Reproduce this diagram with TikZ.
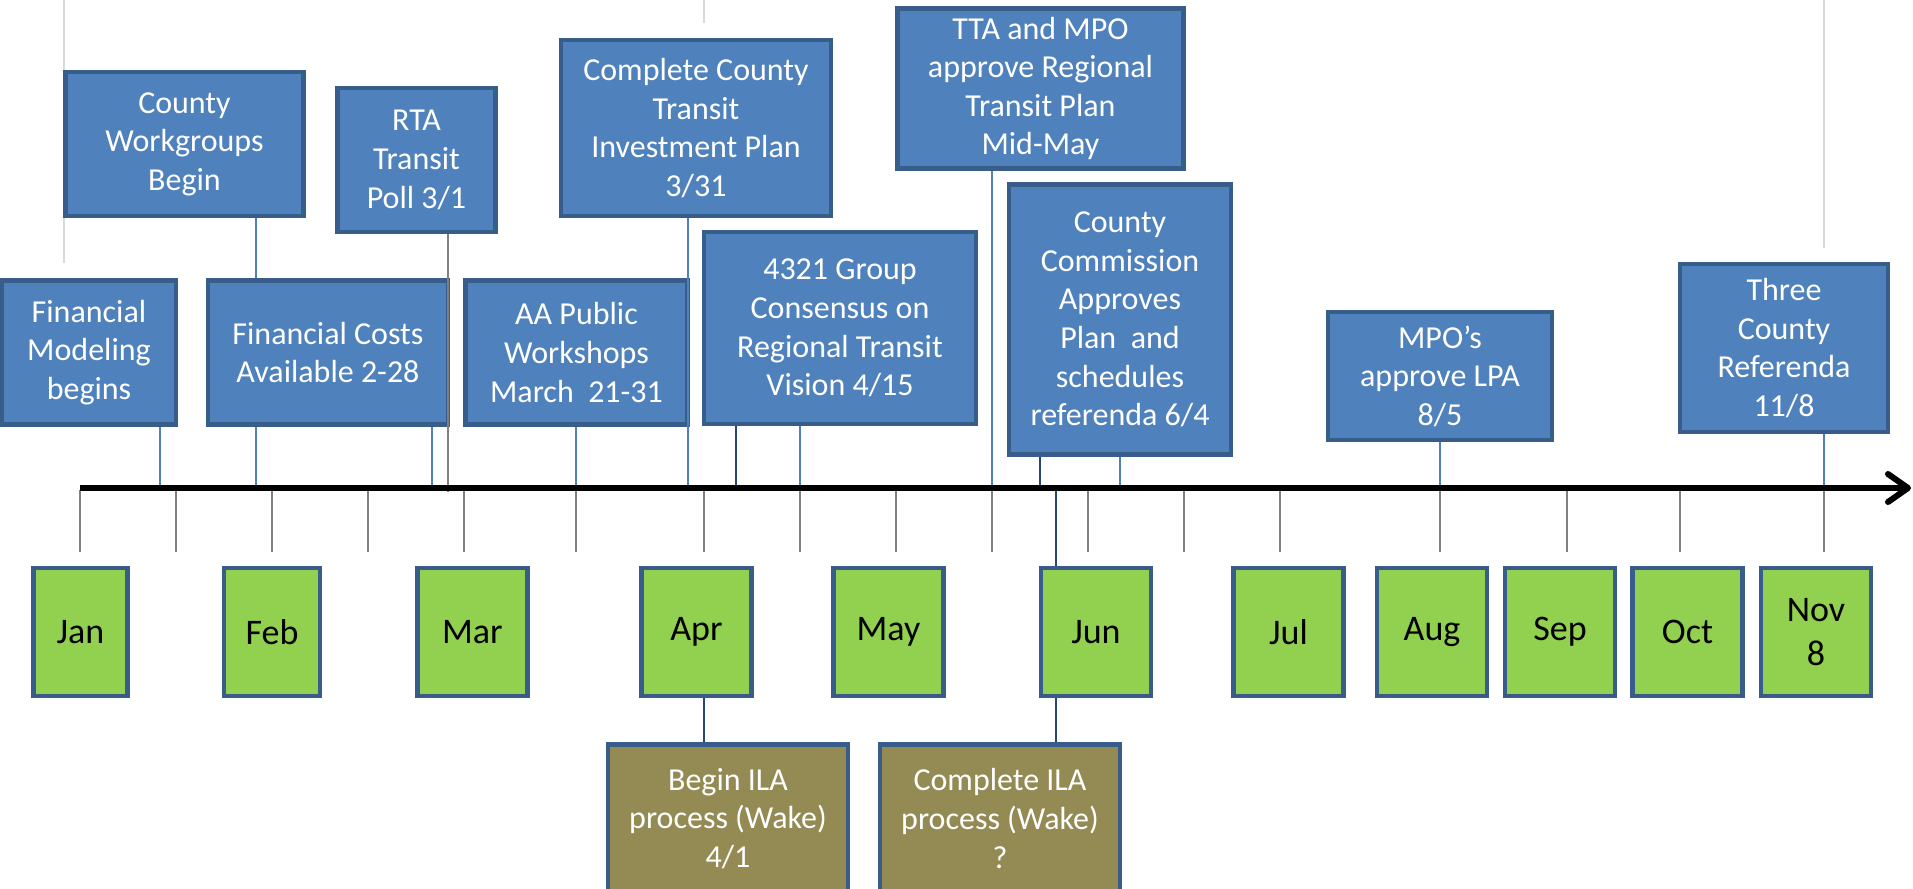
\documentclass[tikz,border=0pt]{standalone}
\usepackage{fontspec}
\setmainfont{Carlito}
\usetikzlibrary{arrows.meta}

\definecolor{evtblue}{HTML}{4F81BD}
\definecolor{edgeblue}{HTML}{385D8A}
\definecolor{monthgreen}{HTML}{92D050}
\definecolor{ilaolive}{HTML}{948A54}
\definecolor{navy}{HTML}{24477A}
\definecolor{tickgray}{HTML}{808080}
\definecolor{guidegray}{HTML}{D9D9D9}

\begin{document}
\begin{tikzpicture}[
                    x = 0.5pt, y = -0.5pt, % one unit = one pixel of the sketch
                    > = {Straight Barb[round, length=10pt, width=14pt]}, % axis head
                    semithick % line style
            ]

            \tikzstyle{event}=[
                draw = edgeblue,
                line width = 2.3pt,
                fill = evtblue,
                text = white,
                align = center,
                inner sep = 0pt,
                font = \fontsize{16}{19.3}\selectfont
            ]
            \tikzstyle{month}=[event, fill = monthgreen, text = black,
                minimum width = 55pt, minimum height = 64pt,
                font = \fontsize{18}{22}\selectfont]
            \tikzstyle{ila}=[event, fill = ilaolive,
                minimum width = 120pt, minimum height = 74pt]
            \tikzstyle{link}=[evtblue, line width = 0.8pt]
            \tikzstyle{dlink}=[navy, line width = 1pt]
            \tikzstyle{tick}=[tickgray, line width = 0.8pt]
            \tikzstyle{guide}=[guidegray, line width = 1pt]

            \useasboundingbox (0,0) rectangle (1913,889);

            % faint guide lines
            \draw[guide] (64,0) -- (64,263);
            \draw[guide] (703.5,0) -- (703.5,23);
            \draw[guide] (1824,0) -- (1824,248);

            % where the events meet the axis
            \coordinate (A0) at (80,488);
            \coordinate (A1) at (1911,488);
            \coordinate (tFin) at (160,488);
            \coordinate (tCwg) at (256,488);
            \coordinate (tCost) at (432,488);
            \coordinate (tRta) at (448,492);
            \coordinate (tAA) at (576,488);
            \coordinate (tPlan) at (688,488);
            \coordinate (tVisA) at (736,488);
            \coordinate (tVisB) at (800,488);
            \coordinate (tTta) at (992,488);
            \coordinate (tComA) at (1040,488);
            \coordinate (tComB) at (1120,488);
            \coordinate (tJun) at (1056,488);
            \coordinate (tLpa) at (1440,503);
            \coordinate (tRef) at (1824,488);

            % events
            \node[event, minimum width=119pt, minimum height=72pt] (Cwg) at (184.5,144) {County\\Workgroups\\Begin};
            \draw[link] (Cwg.south -| tCwg) -- (tCwg);

            \node[event, minimum width=87pt, minimum height=72pt] (Fin) at (89,352.5) {Financial\\Modeling\\begins};
            \node[event, minimum width=79pt, minimum height=72pt] (Rta) at (416.5,160) {RTA\\Transit\\Poll 3/1};
            \node[event, minimum width=120pt, minimum height=72pt] (Cost) at (328,352.5) {Financial Costs\\Available 2-28};
            \node[event, minimum width=111pt, minimum height=72pt] (AA) at (576.5,352.5) {AA Public\\Workshops\\March\ \ 21-31};
            \node[event, minimum width=135pt, minimum height=88pt] (Plan) at (696,128) {Complete County\\Transit\\Investment Plan\\3/31};
            \node[event, minimum width=136pt, minimum height=96pt] (Vis) at (840,328) {4321 Group\\Consensus on\\Regional Transit\\Vision 4/15};
            \node[event, minimum width=143pt, minimum height=80pt] (Tta) at (1040.5,88.5) {TTA and MPO\\approve Regional\\Transit Plan\\Mid-May};
            \node[event, minimum width=111pt, minimum height=135pt] (Com) at (1120,319.5) {County\\Commission\\Approves\\Plan\ \ and\\schedules\\referenda 6/4};
            \node[event, minimum width=112pt, minimum height=64pt] (Lpa) at (1440,376) {MPO’s\\approve LPA\\8/5};
            \node[event, minimum width=104pt, minimum height=84pt] (Ref) at (1784,348) {Three\\County\\Referenda\\11/8};

            \draw[link] (Fin.south -| tFin) -- (tFin);
            \draw[link] (Cost.south -| tCost) -- (tCost);
            \draw[tickgray, line width=1pt] (Rta.south -| tRta) -- (tRta);
            \draw[link] (AA.south -| tAA) -- (tAA);
            \draw[link] (Plan.south -| tPlan) -- (tPlan);
            \draw[dlink] (Vis.south -| tVisA) -- (tVisA);
            \draw[link] (Vis.south -| tVisB) -- (tVisB);
            \draw[link] (Tta.south -| tTta) -- (tTta);
            \draw[dlink] (Com.south -| tComA) -- (tComA);
            \draw[link] (Com.south -| tComB) -- (tComB);
            \draw[link] (Lpa.south -| tLpa) -- (tLpa);
            \draw[link] (Ref.south -| tRef) -- (tRef);

            % ticks under the axis
            \foreach \x in {80,176,272,368,464,576,704,800,896,992,1088,1184,1280,1440,1567,1680,1824}
                \draw[tick] (\x,490) -- (\x,552);

            % months
            \node[month, minimum width=47pt] (Jan) at (80.5,632) {Jan};
            \node[month, minimum width=48pt] (Feb) at (272,632) {Feb};
            \node[month] (Mar) at (472.5,632) {Mar};
            \node[month] (Apr) at (696.5,632) {Apr};
            \node[month] (May) at (888.5,632) {May};
            \node[month] (Jun) at (1096,632) {Jun};
            \node[month] (Jul) at (1288.5,632) {Jul};
            \node[month] (Aug) at (1432,632) {Aug};
            \node[month] (Sep) at (1560,632) {Sep};
            \node[month] (Oct) at (1687.5,632) {Oct};
            \node[month] (Nov) at (1816,632) {Nov\\8};

            % ILA steps
            \node[ila] (W1) at (728,818.5) {Begin ILA\\process (Wake)\\4/1};
            \node[ila] (W2) at (1000,818.5) {Complete ILA\\process (Wake)\\?};

            \draw[dlink] ([xshift=3.75pt]Apr.south) -- ([xshift=3.75pt]Apr.south |- W1.north);
            \draw[dlink] (tJun) -- (tJun |- Jun.north);
            \draw[dlink] (Jun.south -| tJun) -- (W2.north -| tJun);

            % time axis
            \draw[->, line width=3pt] (A0) -- (A1);
        \end{tikzpicture}
\end{document}
